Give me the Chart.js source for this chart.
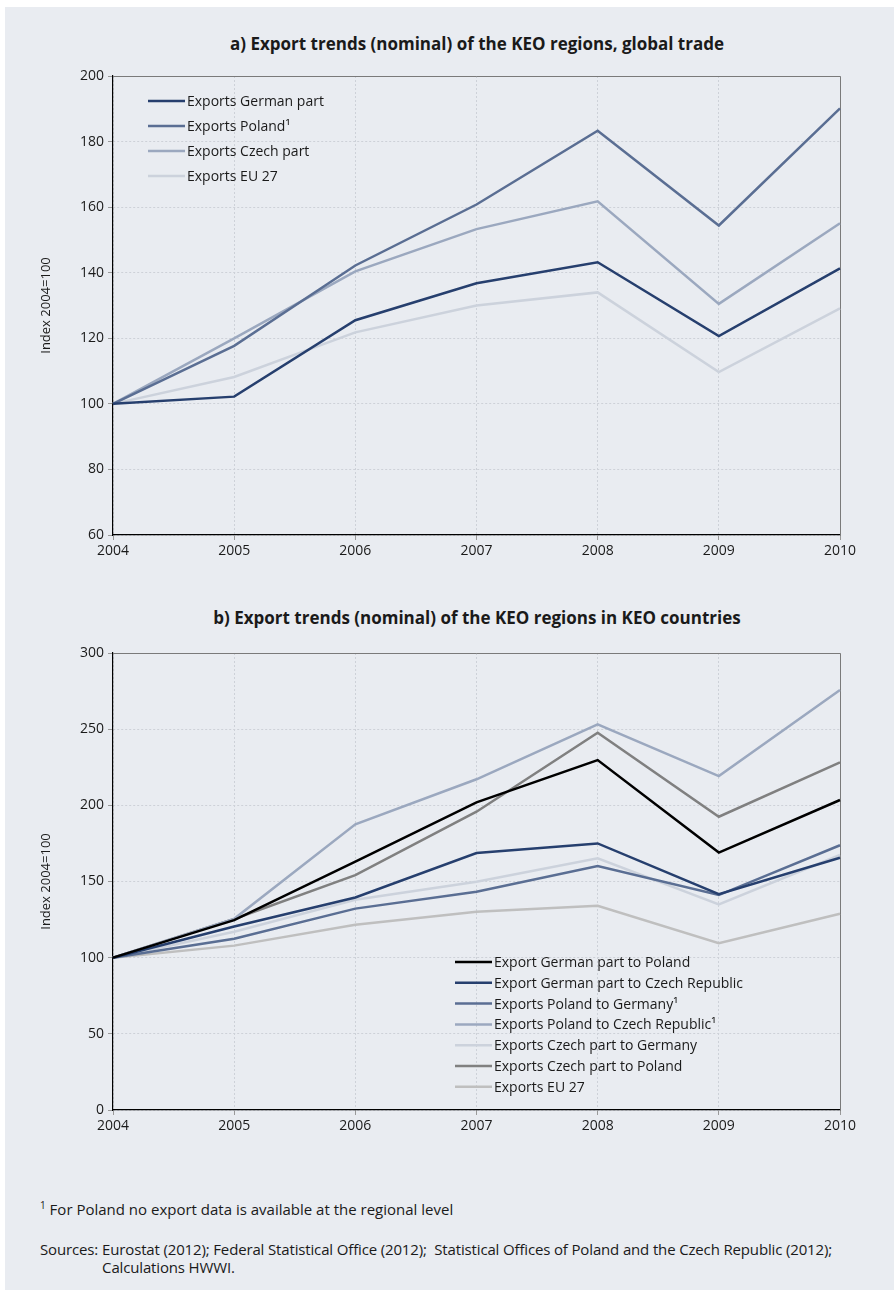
<!DOCTYPE html>
<html>
<head>
<meta charset="utf-8">
<script src="https://cdn.jsdelivr.net/npm/chart.js@4.4.0/dist/chart.umd.min.js"></script>
<style>
  body { margin: 0; background: #fff; font-family: "Open Sans", sans-serif; color: #1a1a1a; }
  #page { position: absolute; left: 5px; top: 7px; width: 889px; height: 1283px; background: #e9ecf1; }
  .title { position: absolute; left: 0; width: 954px; text-align: center; font-weight: bold; font-size: 17px; }
  .chart { position: absolute; left: 0; width: 894px; height: 575px; }
  .note { position: absolute; left: 40px; font-size: 15px; white-space: nowrap; }
  .src { display: flex; line-height: 18px; letter-spacing: -0.15px; }
  .src span:first-child { margin-right: 4px; }
</style>
</head>
<body>
<div id="page"></div>
<div class="title" style="top:32px">a) Export trends (nominal) of the KEO regions, global trade</div>
<div class="chart" style="top:0"><canvas id="chartA" width="894" height="575"></canvas></div>
<div class="title" style="top:606px">b) Export trends (nominal) of the KEO regions in KEO countries</div>
<div class="chart" style="top:575px"><canvas id="chartB" width="894" height="575"></canvas></div>
<div class="note" style="top:1198px"><sup style="font-size:10px">1</sup> For Poland no export data is available at the regional level</div>
<div class="note src" style="top:1240px"><span>Sources:</span><span>Eurostat (2012); Federal Statistical Office (2012);&nbsp; Statistical Offices of Poland and the Czech Republic (2012);<br>Calculations HWWI.</span></div>
<script>
const years = ["2004", "2005", "2006", "2007", "2008", "2009", "2010"];

// a) global trade, index 2004=100
const germanPart = [100, 102.2, 125.5, 136.8, 143.2, 120.7, 141.3];
const polandAll = [100, 117.7, 142.2, 160.8, 183.3, 154.4, 190.1];
const czechPart = [100, 120.0, 140.4, 153.3, 161.8, 130.5, 155.1];
const eu27 = [100, 108.2, 121.8, 130.0, 134.0, 109.7, 129.1];

// b) trade within KEO countries, index 2004=100
const gerToPol = [100, 124.6, 163.0, 202.0, 229.7, 169.0, 203.5];
const gerToCz = [100, 120.5, 139.5, 168.7, 175.0, 141.7, 165.6];
const polToGer = [100, 112.4, 132.2, 143.3, 160.1, 141.1, 173.8];
const polToCz = [100, 125.5, 187.5, 217.1, 253.2, 219.2, 275.7];
const czToGer = [100, 117.0, 138.0, 149.8, 165.2, 135.0, 167.4];
const czToPol = [100, 125.4, 154.2, 195.8, 247.7, 192.5, 228.2];
const eu27b = [100, 107.9, 121.6, 130.2, 134.0, 109.5, 128.8];

const yTicksA = { min: 60, max: 200, step: 20 };
const yTicksB = { min: 0, max: 300, step: 50 };

const FONT = '"Open Sans", sans-serif';

// legend drawn inside the plot area
const insideLegend = {
  id: "insideLegend",
  afterDatasetsDraw(chart, args, opts) {
    const { ctx, chartArea } = chart;
    ctx.save();
    ctx.font = "14px " + FONT;
    ctx.textBaseline = "middle";
    chart.data.datasets.forEach(function (ds, i) {
      const x = chartArea.left + opts.left;
      const y = chartArea.top + opts.top + i * opts.gap;
      ctx.strokeStyle = ds.borderColor;
      ctx.lineWidth = 2.5;
      ctx.beginPath();
      ctx.moveTo(x, y);
      ctx.lineTo(x + 37, y);
      ctx.stroke();
      ctx.fillStyle = "#1a1a1a";
      ctx.fillText(ds.label, x + 39, y + 1);
    });
    ctx.restore();
  },
};

// grey frame on top and right side
const frame = {
  id: "frame",
  beforeDatasetsDraw(chart) {
    const { ctx, chartArea } = chart;
    ctx.save();
    ctx.strokeStyle = "#7a7a7a";
    ctx.lineWidth = 1;
    ctx.beginPath();
    ctx.moveTo(chartArea.left, chartArea.top + 0.5);
    ctx.lineTo(chartArea.right + 0.5, chartArea.top + 0.5);
    ctx.lineTo(chartArea.right + 0.5, chartArea.bottom);
    ctx.stroke();
    ctx.restore();
  },
};

function line(label, data, color) {
  return {
    label: label,
    data: data,
    borderColor: color,
    backgroundColor: color,
    borderWidth: 2.5,
    pointRadius: 0,
    tension: 0,
    fill: false,
  };
}

function makeOptions(ticks, padTop, legendOpts) {
  return {
    responsive: false,
    animation: false,
    layout: { padding: { top: padTop, right: 54, left: 0, bottom: 0 } },
    plugins: {
      legend: { display: false },
      tooltip: { enabled: false },
      insideLegend: legendOpts,
    },
    scales: {
      x: {
        offset: false,
        afterFit: function (scale) { scale.height = 40; },
        grid: { color: "#cdd1d8", tickColor: "#999", tickLength: 5 },
        border: { color: "#000", width: 1.2, dash: [2, 2] },
        ticks: { color: "#1a1a1a", font: { family: FONT, size: 14 }, padding: 3, maxRotation: 0 },
      },
      y: {
        min: ticks.min,
        max: ticks.max,
        afterFit: function (scale) { scale.width = 113; },
        grid: { color: "#cdd1d8", tickColor: "#999", tickLength: 5 },
        border: { color: "#000", width: 1.2, dash: [2, 2] },
        ticks: { stepSize: ticks.step, color: "#1a1a1a", font: { family: FONT, size: 14 }, padding: 4 },
        title: {
          display: true,
          text: "Index 2004=100",
          color: "#1a1a1a",
          font: { family: FONT, size: 13 },
          padding: { top: 38, bottom: 0 },
        },
      },
    },
  };
}

new Chart(document.getElementById("chartA").getContext("2d"), {
  type: "line",
  data: {
    labels: years,
    datasets: [
      line("Exports German part", germanPart, "#263f6e"),
      line("Exports Poland\u00b9", polandAll, "#5a6e93"),
      line("Exports Czech part", czechPart, "#9ba8bf"),
      line("Exports EU 27", eu27, "#ccd2dc"),
    ],
  },
  options: makeOptions(yTicksA, 76, { left: 35, top: 25, gap: 25 }),
  plugins: [frame, insideLegend],
});

new Chart(document.getElementById("chartB").getContext("2d"), {
  type: "line",
  data: {
    labels: years,
    datasets: [
      line("Export German part to Poland", gerToPol, "#000000"),
      line("Export German part to Czech Republic", gerToCz, "#263f6e"),
      line("Exports Poland to Germany\u00b9", polToGer, "#5a6e93"),
      line("Exports Poland to Czech Republic\u00b9", polToCz, "#9ba8bf"),
      line("Exports Czech part to Germany", czToGer, "#ccd2dc"),
      line("Exports Czech part to Poland", czToPol, "#808080"),
      line("Exports EU 27", eu27b, "#bfbfbf"),
    ],
  },
  options: makeOptions(yTicksB, 78, { left: 342, top: 309, gap: 20.8 }),
  plugins: [frame, insideLegend],
});
</script>
</body>
</html>
